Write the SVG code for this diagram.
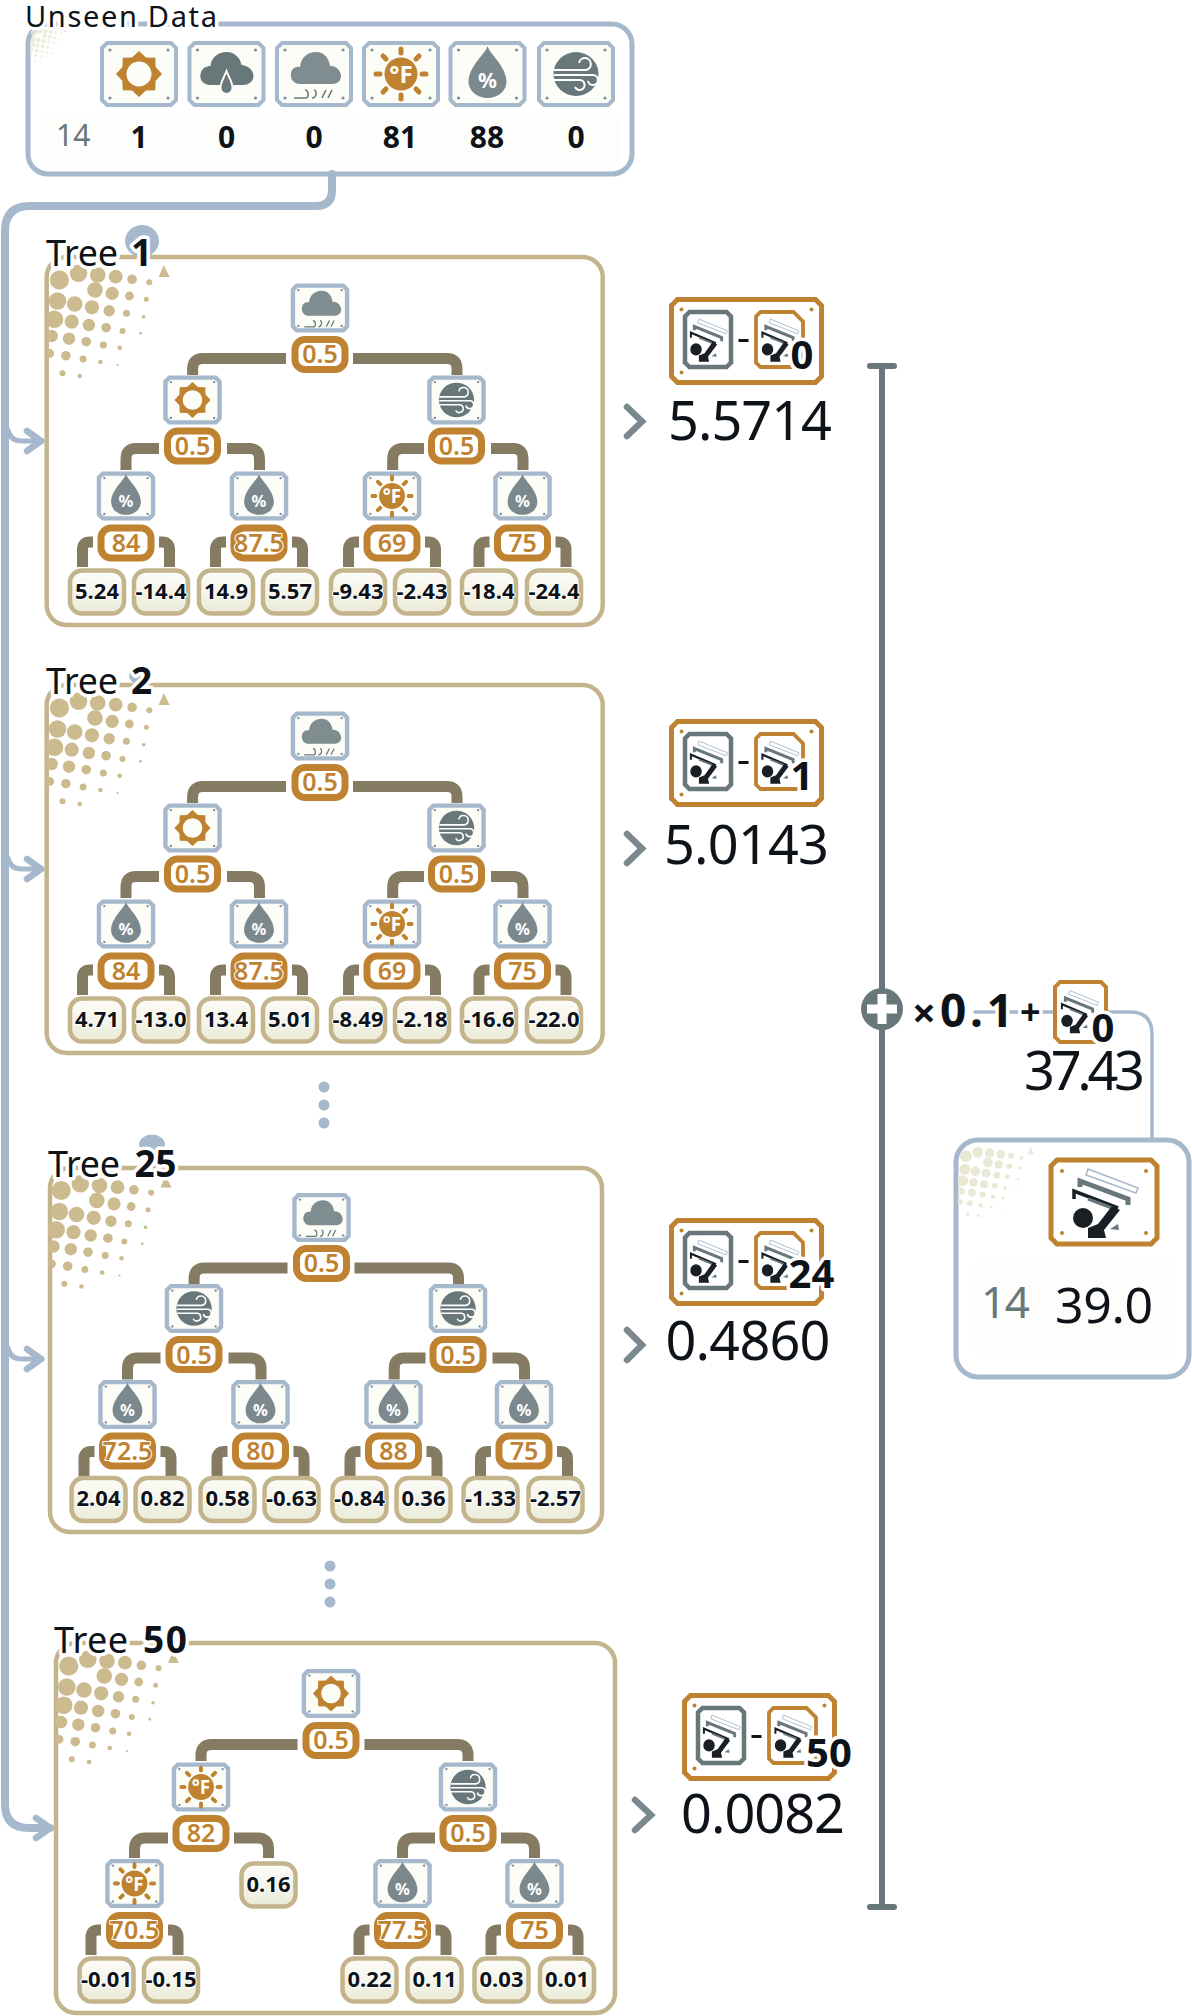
<svg xmlns="http://www.w3.org/2000/svg" width="1192" height="2016" viewBox="0 0 1192 2016">
<style>
text{font-family:"Noto Sans",sans-serif;fill:#0e131a}
.h{paint-order:stroke;stroke:#fff;stroke-width:7;stroke-linejoin:round}
.title{font-size:36px}
.titleb{font-size:37px;font-weight:700}
.tt{font-size:25px;font-weight:600;fill:#bf8230;text-anchor:middle;paint-order:stroke;stroke:#fff;stroke-width:2;stroke-linejoin:round}
.lt{font-size:22px;font-weight:700;text-anchor:middle;paint-order:stroke;stroke:#fff;stroke-width:2;stroke-linejoin:round}
.val{font-size:54px}
.row{font-size:30px;font-weight:700;text-anchor:middle}
.idx{fill:#68777a}
.lab{font-size:40px;font-weight:700;text-anchor:middle}
.frame{fill:#fff;stroke:#c4b48c;stroke-width:4.5}
.bframe{fill:#fff;stroke:#a6b8cb;stroke-width:5}
.conn{fill:none;stroke:#857a62;stroke-width:11}
.flow{fill:none;stroke:#a6b8cb;stroke-linecap:round;stroke-linejoin:round}
.chev{fill:none;stroke:#7b898e;stroke-width:6.5;stroke-linecap:round;stroke-linejoin:miter}
.ax{fill:none;stroke:#68777a;stroke-width:6;stroke-linecap:round}
.dots{fill:#a6b8cb;stroke:#fff;stroke-width:2}
.tan{fill:#cdbb90}
.cream{fill:#e9e9d6}
</style>
<defs>
<linearGradient id="leafg" x1="0" y1="0" x2="0" y2="1"><stop offset="0" stop-color="#fdfdf9"/><stop offset="1" stop-color="#ebebd8"/></linearGradient>
<clipPath id="htclip"><rect x="0" y="0" width="140" height="140"/></clipPath>
<g id="ht" clip-path="url(#htclip)">
<circle cx="12.7" cy="23" r="9.6"/><circle cx="31.8" cy="16.3" r="8.8"/><circle cx="51" cy="18" r="7.8"/><circle cx="69" cy="19.7" r="6.9"/><circle cx="85.4" cy="22.3" r="4.8"/><circle cx="102.6" cy="25.3" r="3"/>
<path d="M112 20 L117 8 L123 20 Z"/>
<circle cx="10.8" cy="44" r="8.8"/><circle cx="28" cy="47" r="7.8"/><circle cx="48.3" cy="33" r="7.8"/><circle cx="65.5" cy="36.3" r="6.6"/><circle cx="82.7" cy="39" r="4.4"/><circle cx="99.6" cy="42.3" r="2.5"/>
<circle cx="7.7" cy="62.3" r="8.8"/><circle cx="25" cy="64.7" r="7.1"/><circle cx="45.2" cy="50.3" r="7.1"/><circle cx="62.5" cy="53.7" r="5.7"/><circle cx="79.7" cy="56.3" r="3.5"/><circle cx="97" cy="59.7" r="1.8"/>
<circle cx="5" cy="79" r="6.2"/><circle cx="22.3" cy="81.7" r="6.2"/><circle cx="42.2" cy="68" r="6.2"/><circle cx="59.4" cy="70.7" r="4.8"/><circle cx="75.8" cy="74" r="3"/><circle cx="93.8" cy="76.3" r="1.4"/>
<circle cx="3" cy="96.3" r="4.4"/><circle cx="19.2" cy="98.7" r="4.8"/><circle cx="39.5" cy="84.7" r="4.8"/><circle cx="56.7" cy="88" r="3.5"/><circle cx="73" cy="90.7" r="2.3"/>
<circle cx="36.4" cy="102" r="3.5"/><circle cx="53.7" cy="105" r="2.3"/><circle cx="70.9" cy="108" r="1.1"/>
<circle cx="15.8" cy="116.3" r="3"/><circle cx="33" cy="119" r="2.3"/>
</g>
<g id="cd"><circle cx="-29" cy="-24" r="1.6"/><circle cx="29" cy="-24" r="1.6"/><circle cx="-29" cy="24" r="1.6"/><circle cx="29" cy="24" r="1.6"/></g>
<path id="bp" d="M-32 -31H32L37 -26V26L32 31H-32L-37 26V-26Z"/>
<path id="bq" d="M-29.5 -28.5H29.5L34.5 -23.5V23.5L29.5 28.5H-29.5L-34.5 23.5V-23.5Z"/>
<g id="bt"><use href="#bp" fill="#fdfdf8" stroke="#a6b8cb" stroke-width="4"/><use href="#cd" fill="#7b8fa5"/></g>
<g id="bs"><use href="#bq" fill="#fdfdf8" stroke="#a6b8cb" stroke-width="5.6"/><use href="#cd" fill="#7b8fa5" transform="scale(.95)"/></g>
<g id="sun"><path fill="#bf8230" d="M0 -23L6.9 -16.6L16.3 -16.3L16.6 -6.9L23 0L16.6 6.9L16.3 16.3L6.9 16.6L0 23L-6.9 16.6L-16.3 16.3L-16.6 6.9L-23 0L-16.6 -6.9L-16.3 -16.3L-6.9 -16.6Z"/><circle r="12.5" fill="#fdfdf8"/></g>
<g id="rain"><path fill="#68777a" d="M-16 11C-24 11 -27 5 -26 0C-25 -6 -20 -8 -16 -8C-15 -17 -8 -22 0 -22C8 -22 14 -16 15 -9C21 -9 27 -4 27 2C27 8 21 11 17 11Z"/><path fill="#68777a" stroke="#fdfdf8" stroke-width="2" d="M0 -3C3 5 6 8 6 14A6 6 0 0 1 -6 14C-6 8 -3 5 0 -3Z"/></g>
<g id="snow"><path fill="#7f8c90" d="M-14 10C-21 10 -24 4 -23 -1C-22 -6 -18 -8 -14 -7C-13 -17 -6 -22 2 -22C10 -22 15 -16 16 -8C22 -9 27 -3 27 2C27 8 22 10 18 10Z"/><path fill="none" stroke="#68777a" stroke-width="1.6" d="M-20 24H-8C-5 24 -5 16 -9 16M-2 24C3 24 3 16 0 16M8 24L12 16M14 24L18 16"/></g>
<g id="temp"><circle r="16.5" fill="#bf8230"/><path stroke="#bf8230" stroke-width="5" stroke-linecap="round" d="M0 -21V-25M0 21V25M-21 0H-25M21 0H25M-15 -15L-18 -18M15 -15L18 -18M-15 15L-18 18M15 15L18 18"/><text x="0" y="9" text-anchor="middle" font-size="24" font-weight="700" style="fill:#fff">°F</text></g>
<g id="drop"><path fill="#7b898e" d="M0 -28C2 -20 19 -8 19 8A19 16 0 0 1 -19 8C-19 -8 -2 -20 0 -28Z"/><text x="0" y="14" text-anchor="middle" font-size="21" font-weight="700" style="fill:#fff">%</text></g>
<g id="wind"><ellipse rx="22.5" ry="22" fill="#68777a"/><path fill="none" stroke="#fff" stroke-width="2" d="M-22 -4H10A6 6 0 1 0 3 -11M-22 1H17A5 5 0 1 1 12 7M-22 6H3A5 5 0 1 1 -1 13"/></g>
<g id="n-sun"><g transform="scale(.785)"><use href="#bs"/><use href="#sun"/></g></g>
<g id="n-snow"><g transform="scale(.785)"><use href="#bs"/><use href="#snow"/></g></g>
<g id="n-temp"><g transform="scale(.785)"><use href="#bs"/><use href="#temp"/></g></g>
<g id="n-drop"><g transform="scale(.785)"><use href="#bs"/><use href="#drop"/></g></g>
<g id="n-wind"><g transform="scale(.785)"><use href="#bs"/><use href="#wind"/></g></g>
<rect id="th" x="-25" y="-15" width="50" height="30" rx="10" fill="#fff" stroke="#bf8230" stroke-width="7"/>
<rect id="lf" x="-27" y="-21.5" width="54" height="43" rx="12" fill="url(#leafg)" stroke="#c4b48c" stroke-width="4.5"/>
<g id="m">
<path fill="none" stroke="#a6b8cb" stroke-width="1.5" d="M-16 -33L34 -14L32 -9L-18 -27Z"/>
<path fill="none" stroke="#68777a" stroke-width="5" d="M-24 -15V-21L24 -3V3"/>
<path fill="none" stroke="#1a1f26" stroke-width="3.5" d="M-30 -3V-11L14 6"/>
<path fill="none" stroke="#68777a" stroke-width="3" d="M-16 -3L8 6"/>
<circle cx="-21" cy="16" r="10" fill="#1a1f26"/>
<path fill="#1a1f26" d="M8 4L16 8L0 28L2 36L-16 36L-16 26L-6 22Z"/>
<path fill="#68777a" d="M6 27L14 22L15 28Z"/>
</g>
<g id="badge">
<path d="M6 0H144L150 6V77L144 83H6L0 77V6Z" fill="#fff" stroke="#bf8230" stroke-width="5"/>
<g fill="#bf8230"><circle cx="10" cy="10" r="2"/><circle cx="140" cy="10" r="2"/><circle cx="10" cy="73" r="2"/></g>
<path d="M18 12.5H55L59.5 17V63L55 67.5H18L13.5 63V17Z" fill="#fff" stroke="#68777a" stroke-width="4.5"/>
<g transform="translate(36.5,40) scale(.57,.62)"><use href="#m"/></g>
<path d="M67 41H77" stroke="#0e131a" stroke-width="3"/>
<path d="M89 12.5H122L131.5 22V63L127 67.5H89L84.5 63V17Z" fill="#fff" stroke="#bf8230" stroke-width="3.8"/>
<g transform="translate(108,40) scale(.57,.62)"><use href="#m"/></g>
</g>
<path id="ctree" class="conn" d="M286 358.5H203Q192.6 358.5 192.6 369V375M353 358.5H447Q457 358.5 457 369V375M159 448.5H136Q126 448.5 126 459V470M227 448.5H249Q259.5 448.5 259.5 459V470M424 448.5H403Q392.7 448.5 392.7 459V470M491 448.5H513Q523 448.5 523 459V470M93 542H90Q82.5 542 82.5 549.5V567M159 542H162Q169.5 542 169.5 549.5V567M226 542H223Q215.5 542 215.5 549.5V567M292 542H295Q302.5 542 302.5 549.5V567M359 542H356Q348.5 542 348.5 549.5V567M425 542H428Q435.5 542 435.5 549.5V567M489.5 542H486.5Q479 542 479 549.5V567M555.5 542H558.5Q566 542 566 549.5V567"/>
<path id="head" class="flow" d="M-17 -10L-3 0L-17 10"/>
</defs>

<rect width="1192" height="2016" fill="#fff"/>

<g id="frames">
<rect x="28" y="24" width="604" height="150" rx="20" class="bframe"/>
<rect x="46.7" y="257" width="556" height="368" rx="20" class="frame"/>
<rect x="46.7" y="685" width="556" height="368" rx="20" class="frame"/>
<rect x="50" y="1168" width="552" height="364" rx="20" class="frame"/>
<rect x="56" y="1643" width="559" height="370" rx="20" class="frame"/>
<rect x="956" y="1140" width="233" height="237" rx="22" class="bframe"/>
</g>

<g id="connectors">
<path class="flow" stroke-width="8" d="M332 174V190Q332 206 316 206H30Q5 206 5 231V1804Q5 1828 29 1828H50"/>
<path class="flow" stroke-width="5" d="M8 430Q10 441 22 441H42M8 858Q10 869 22 869H42M8 1348Q10 1359 22 1359H42"/>
<use href="#head" x="44" y="441" stroke-width="6.5"/>
<use href="#head" x="44" y="869" stroke-width="6.5"/>
<use href="#head" x="44" y="1359" stroke-width="6.5"/>
<use href="#head" x="53" y="1828" stroke-width="6.5"/>
<use href="#ctree"/>
<use href="#ctree" y="428"/>
<use href="#ctree" x="1.5" y="909.5"/>
<path class="conn" d="M297.5 1744.5H212Q201 1744.5 201 1755V1761M364.5 1744.5H457Q468 1744.5 468 1755V1761M168 1838H145.5Q134.5 1838 134.5 1849V1858M234 1838H257.5Q268.5 1838 268.5 1849V1858M435 1838H413.5Q402.5 1838 402.5 1849V1858M501 1838H523.5Q534.5 1838 534.5 1849V1858M101 1930H98Q91 1930 91 1937.5V1955M168 1930H171Q178 1930 178 1937.5V1955M369.5 1930H366.5Q359 1930 359 1937.5V1955M435.5 1930H438.5Q446 1930 446 1937.5V1955M501 1930H498Q491 1930 491 1937.5V1955M568 1930H571Q578 1930 578 1937.5V1955"/>
<path class="flow" stroke-width="3.5" d="M975 1012H1130Q1152 1012 1152 1034V1140"/>
<path class="ax" d="M882 1907V366M870 366H894M870 1907H894"/>
<path class="chev" d="M627 407L642 421.5L627 436"/>
<path class="chev" d="M627 834L642 848.5L627 863"/>
<path class="chev" d="M627 1330L642 1345L627 1360"/>
<path class="chev" d="M635 1800L651 1815L635 1830"/>
</g>

<g id="unseen-data">
<g class="cream" transform="translate(30,26) scale(.3)" opacity=".8"><use href="#ht"/></g>
<rect x="40" y="113" width="580" height="54" rx="6" fill="#fdfdfb"/>
<text class="h" x="25" y="27" font-size="29" textLength="192">Unseen Data</text>
<g transform="translate(139,74)"><use href="#bt"/><use href="#sun"/></g>
<g transform="translate(226.5,74)"><use href="#bt"/><use href="#rain"/></g>
<g transform="translate(314,74)"><use href="#bt"/><use href="#snow"/></g>
<g transform="translate(401,74)"><use href="#bt"/><use href="#temp"/></g>
<g transform="translate(487.5,74)"><use href="#bt"/><use href="#drop"/></g>
<g transform="translate(576,74)"><use href="#bt"/><use href="#wind"/></g>
<text class="idx" x="56" y="146" font-size="30">14</text>
<text class="row" x="139" y="148">1</text><text class="row" x="226.5" y="148">0</text><text class="row" x="314" y="148">0</text><text class="row" x="400" y="148">81</text><text class="row" x="487" y="148">88</text><text class="row" x="576" y="148">0</text>
</g>

<g id="tree-1">
<use href="#ht" class="tan" x="46.7" y="257"/>
<ellipse cx="142" cy="241" rx="17" ry="16" fill="#a6b8cb"/>
<text class="title h" x="46" y="266" textLength="72">Tree</text><text class="titleb h" x="131" y="266">1</text>
<g id="t1-n1"><use href="#n-snow" x="320" y="308"/><use href="#th" x="320" y="354.5"/><text class="tt" x="320" y="363">0.5</text></g>
<g id="t1-n2"><use href="#n-sun" x="192.5" y="400"/><use href="#th" x="192.5" y="446"/><text class="tt" x="192.5" y="455">0.5</text></g>
<g id="t1-n3"><use href="#n-wind" x="456.5" y="400"/><use href="#th" x="456.5" y="446"/><text class="tt" x="456.5" y="455">0.5</text></g>
<g id="t1-n4"><use href="#n-drop" x="126" y="496"/><use href="#th" x="126" y="543"/><text class="tt" x="126" y="551.5">84</text></g>
<g id="t1-n5"><use href="#n-drop" x="259" y="496"/><use href="#th" x="259" y="543"/><text class="tt" x="259" y="551.5">87.5</text></g>
<g id="t1-n6"><use href="#n-temp" x="392" y="496"/><use href="#th" x="392" y="543"/><text class="tt" x="392" y="551.5">69</text></g>
<g id="t1-n7"><use href="#n-drop" x="522.5" y="496"/><use href="#th" x="522.5" y="543"/><text class="tt" x="522.5" y="551.5">75</text></g>
<g id="t1-l1"><use href="#lf" x="97" y="592"/><text class="lt" x="97" y="599">5.24</text></g>
<g id="t1-l2"><use href="#lf" x="161" y="592"/><text class="lt" x="161" y="599">-14.4</text></g>
<g id="t1-l3"><use href="#lf" x="226" y="592"/><text class="lt" x="226" y="599">14.9</text></g>
<g id="t1-l4"><use href="#lf" x="290" y="592"/><text class="lt" x="290" y="599">5.57</text></g>
<g id="t1-l5"><use href="#lf" x="358" y="592"/><text class="lt" x="358" y="599">-9.43</text></g>
<g id="t1-l6"><use href="#lf" x="422" y="592"/><text class="lt" x="422" y="599">-2.43</text></g>
<g id="t1-l7"><use href="#lf" x="489" y="592"/><text class="lt" x="489" y="599">-18.4</text></g>
<g id="t1-l8"><use href="#lf" x="554" y="592"/><text class="lt" x="554" y="599">-24.4</text></g>
<g id="t1-out"><use href="#badge" x="671.5" y="299.5"/><text class="lab h" x="802" y="369">0</text><text class="val h" x="668" y="440" textLength="164">5.5714</text></g>
</g>

<g id="tree-2" transform="translate(0,428)">
<use href="#ht" class="tan" x="46.7" y="257"/>
<ellipse cx="139" cy="248" rx="10" ry="8" fill="#a6b8cb"/>
<text class="title h" x="46" y="266" textLength="72">Tree</text><text class="titleb h" x="131" y="266">2</text>
<g id="t2-n1"><use href="#n-snow" x="320" y="308"/><use href="#th" x="320" y="354.5"/><text class="tt" x="320" y="363">0.5</text></g>
<g id="t2-n2"><use href="#n-sun" x="192.5" y="400"/><use href="#th" x="192.5" y="446"/><text class="tt" x="192.5" y="455">0.5</text></g>
<g id="t2-n3"><use href="#n-wind" x="456.5" y="400"/><use href="#th" x="456.5" y="446"/><text class="tt" x="456.5" y="455">0.5</text></g>
<g id="t2-n4"><use href="#n-drop" x="126" y="496"/><use href="#th" x="126" y="543"/><text class="tt" x="126" y="551.5">84</text></g>
<g id="t2-n5"><use href="#n-drop" x="259" y="496"/><use href="#th" x="259" y="543"/><text class="tt" x="259" y="551.5">87.5</text></g>
<g id="t2-n6"><use href="#n-temp" x="392" y="496"/><use href="#th" x="392" y="543"/><text class="tt" x="392" y="551.5">69</text></g>
<g id="t2-n7"><use href="#n-drop" x="522.5" y="496"/><use href="#th" x="522.5" y="543"/><text class="tt" x="522.5" y="551.5">75</text></g>
<g id="t2-l1"><use href="#lf" x="97" y="592"/><text class="lt" x="97" y="599">4.71</text></g>
<g id="t2-l2"><use href="#lf" x="161" y="592"/><text class="lt" x="161" y="599">-13.0</text></g>
<g id="t2-l3"><use href="#lf" x="226" y="592"/><text class="lt" x="226" y="599">13.4</text></g>
<g id="t2-l4"><use href="#lf" x="290" y="592"/><text class="lt" x="290" y="599">5.01</text></g>
<g id="t2-l5"><use href="#lf" x="358" y="592"/><text class="lt" x="358" y="599">-8.49</text></g>
<g id="t2-l6"><use href="#lf" x="422" y="592"/><text class="lt" x="422" y="599">-2.18</text></g>
<g id="t2-l7"><use href="#lf" x="489" y="592"/><text class="lt" x="489" y="599">-16.6</text></g>
<g id="t2-l8"><use href="#lf" x="554" y="592"/><text class="lt" x="554" y="599">-22.0</text></g>
<g id="t2-out"><use href="#badge" x="671.5" y="293.5"/><text class="lab h" x="802" y="362">1</text><text class="val h" x="664" y="436" textLength="165">5.0143</text></g>
</g>

<g id="ellipsis-1" class="dots"><circle cx="324" cy="1087" r="6.5"/><circle cx="324" cy="1105" r="6.5"/><circle cx="324" cy="1123" r="6.5"/></g>

<g id="tree-25" transform="translate(1.5,909.5)">
<use href="#ht" class="tan" x="47" y="258"/>
<ellipse cx="150.5" cy="235" rx="13" ry="10" fill="#a6b8cb"/>
<text class="title h" x="46.5" y="267.5" textLength="72">Tree</text><text class="titleb h" x="133" y="267.5" textLength="42">25</text>
<g id="t25-n1"><use href="#n-snow" x="320" y="308"/><use href="#th" x="320" y="354"/><text class="tt" x="320" y="362.5">0.5</text></g>
<g id="t25-n2"><use href="#n-wind" x="192.5" y="399"/><use href="#th" x="192.5" y="445"/><text class="tt" x="192.5" y="454">0.5</text></g>
<g id="t25-n3"><use href="#n-wind" x="456.5" y="399"/><use href="#th" x="456.5" y="445"/><text class="tt" x="456.5" y="454">0.5</text></g>
<g id="t25-n4"><use href="#n-drop" x="126" y="495"/><use href="#th" x="126" y="541.5"/><text class="tt" x="126" y="550">72.5</text></g>
<g id="t25-n5"><use href="#n-drop" x="259" y="495"/><use href="#th" x="259" y="541.5"/><text class="tt" x="259" y="550">80</text></g>
<g id="t25-n6"><use href="#n-drop" x="392" y="495"/><use href="#th" x="392" y="541.5"/><text class="tt" x="392" y="550">88</text></g>
<g id="t25-n7"><use href="#n-drop" x="522.5" y="495"/><use href="#th" x="522.5" y="541.5"/><text class="tt" x="522.5" y="550">75</text></g>
<g id="t25-l1"><use href="#lf" x="97" y="590"/><text class="lt" x="97" y="596.5">2.04</text></g>
<g id="t25-l2"><use href="#lf" x="161" y="590"/><text class="lt" x="161" y="596.5">0.82</text></g>
<g id="t25-l3"><use href="#lf" x="226" y="590"/><text class="lt" x="226" y="596.5">0.58</text></g>
<g id="t25-l4"><use href="#lf" x="290" y="590"/><text class="lt" x="290" y="596.5">-0.63</text></g>
<g id="t25-l5"><use href="#lf" x="358" y="590"/><text class="lt" x="358" y="596.5">-0.84</text></g>
<g id="t25-l6"><use href="#lf" x="422" y="590"/><text class="lt" x="422" y="596.5">0.36</text></g>
<g id="t25-l7"><use href="#lf" x="489" y="590"/><text class="lt" x="489" y="596.5">-1.33</text></g>
<g id="t25-l8"><use href="#lf" x="554" y="590"/><text class="lt" x="554" y="596.5">-2.57</text></g>
<g id="t25-out"><use href="#badge" x="670" y="311"/><text class="lab h" x="810" y="378.5">24</text><text class="val h" x="664" y="450.5" textLength="165">0.4860</text></g>
</g>

<g id="ellipsis-2" class="dots"><circle cx="330" cy="1566" r="6.5"/><circle cx="330" cy="1584" r="6.5"/><circle cx="330" cy="1602" r="6.5"/></g>

<g id="tree-50">
<use href="#ht" class="tan" x="56" y="1643"/>
<text class="title h" x="54" y="1653" textLength="74">Tree</text><text class="titleb h" x="143" y="1653" textLength="44">50</text>
<g id="t50-n1"><use href="#n-sun" x="331" y="1693.5"/><use href="#th" x="331" y="1740.5"/><text class="tt" x="331" y="1749">0.5</text></g>
<g id="t50-n2"><use href="#n-temp" x="201" y="1787"/><use href="#th" x="201" y="1833.5"/><text class="tt" x="201" y="1842">82</text></g>
<g id="t50-n3"><use href="#n-wind" x="468" y="1787"/><use href="#th" x="468" y="1833.5"/><text class="tt" x="468" y="1842">0.5</text></g>
<g id="t50-n4"><use href="#n-temp" x="134.5" y="1883.5"/><use href="#th" x="134.5" y="1930.5"/><text class="tt" x="134.5" y="1939">70.5</text></g>
<g id="t50-n5"><use href="#n-drop" x="402.5" y="1883.5"/><use href="#th" x="402.5" y="1930.5"/><text class="tt" x="402.5" y="1939">77.5</text></g>
<g id="t50-n6"><use href="#n-drop" x="534.5" y="1883.5"/><use href="#th" x="534.5" y="1930.5"/><text class="tt" x="534.5" y="1939">75</text></g>
<g id="t50-l0"><use href="#lf" x="268.5" y="1885"/><text class="lt" x="268.5" y="1892">0.16</text></g>
<g id="t50-l1"><use href="#lf" x="106.5" y="1980"/><text class="lt" x="106.5" y="1987">-0.01</text></g>
<g id="t50-l2"><use href="#lf" x="171" y="1980"/><text class="lt" x="171" y="1987">-0.15</text></g>
<g id="t50-l3"><use href="#lf" x="369.5" y="1980"/><text class="lt" x="369.5" y="1987">0.22</text></g>
<g id="t50-l4"><use href="#lf" x="434.5" y="1980"/><text class="lt" x="434.5" y="1987">0.11</text></g>
<g id="t50-l5"><use href="#lf" x="501.5" y="1980"/><text class="lt" x="501.5" y="1987">0.03</text></g>
<g id="t50-l6"><use href="#lf" x="567" y="1980"/><text class="lt" x="567" y="1987">0.01</text></g>
<g id="t50-out"><use href="#badge" x="684.5" y="1695.5"/><text class="lab h" x="829" y="1767">50</text><text class="val h" x="681" y="1833" textLength="164">0.0082</text></g>
</g>

<g id="sum">
<circle cx="882" cy="1009" r="21" fill="#68777a"/>
<path d="M867 1009H897M882 994V1024" stroke="#fff" stroke-width="9"/>
<text class="h" x="912" y="1028" font-size="42" font-weight="700">×</text>
<text class="h" x="940" y="1027" font-size="46" font-weight="700" textLength="73">0.1</text>
<text class="h" x="1020" y="1025" font-size="36" font-weight="700">+</text>
<path d="M1060 982H1101L1106 987V1037L1101 1042H1060L1055 1037V987Z" fill="#fff" stroke="#bf8230" stroke-width="4"/>
<g transform="translate(1079,1011) scale(.57,.62)"><use href="#m"/></g>
<text class="lab h" x="1103" y="1042">0</text>
<text class="val h" x="1024" y="1090" textLength="121">37.43</text>
</g>

<g id="prediction">
<g class="cream" transform="translate(958,1142) scale(.62)"><use href="#ht"/></g>
<rect x="970" y="1262" width="206" height="92" rx="8" fill="#fdfdfb"/>
<path d="M1057 1160H1151L1157 1166V1238L1151 1244H1057L1051 1238V1166Z" fill="#fff" stroke="#bf8230" stroke-width="5"/>
<g fill="#bf8230"><circle cx="1062" cy="1171" r="2"/><circle cx="1146" cy="1171" r="2"/><circle cx="1062" cy="1233" r="2"/><circle cx="1146" cy="1233" r="2"/></g>
<use href="#m" x="1104" y="1202"/>
<text class="idx" x="981" y="1318" font-size="44" textLength="49">14</text>
<text x="1055" y="1323" font-size="50" textLength="98">39.0</text>
</g>
</svg>
